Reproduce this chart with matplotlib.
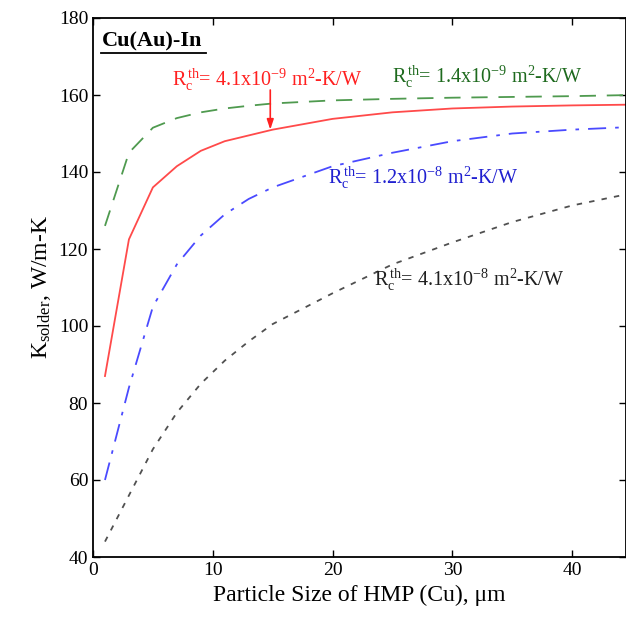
import numpy as np
import matplotlib
matplotlib.use('Agg')
import matplotlib.pyplot as plt

plt.rcParams['font.family'] = ['Liberation Serif', 'DejaVu Serif']
plt.rcParams['mathtext.fontset'] = 'custom'
plt.rcParams['mathtext.rm'] = 'Liberation Serif'
plt.rcParams['mathtext.it'] = 'Liberation Serif'
plt.rcParams['mathtext.bf'] = 'Liberation Serif:bold'

# Particle size (um) and solder conductivity (W/m-K) for each contact resistance
size = [1, 3, 5, 7, 9, 11, 13, 15, 20, 25, 30, 35, 40, 45]
k_14e9 = [126, 145, 151.5, 154, 155.5, 156.5, 157.2, 157.8, 158.6, 159, 159.3, 159.5, 159.7, 160]
k_41e9 = [87, 122.5, 136, 141.5, 145.5, 148, 149.5, 151, 153.8, 155.5, 156.5, 157, 157.3, 157.5]
k_12e8 = [60, 84, 105, 116, 123.5, 129, 133, 136, 141.5, 145, 148, 150, 151, 151.7]
k_41e8 = [44, 56, 68, 77.5, 85, 91, 96, 100.5, 108.5, 116, 121.7, 127, 131.3, 134.5]

fig = plt.figure(figsize=(6.26, 6.19), dpi=100)
ax = fig.add_axes([93 / 626, 62 / 619, 533 / 626, 539 / 619])

ax.plot(size, k_14e9, color='#4f9a4f', lw=1.3, linestyle=(0, (9, 6)))
ax.plot(size, k_41e9, color='#ff4a4a', lw=1.3, linestyle='-')
ax.plot(size, k_12e8, color='#4a4aff', lw=1.3, linestyle=(0, (10, 5, 2, 5)))
ax.plot(size, k_41e8, color='#505050', lw=1.3, linestyle=(0, (3, 4)))

ax.set_xlim(0, 44.5)
ax.set_ylim(40, 180)
ax.set_xticks([0, 10, 20, 30, 40])
ax.set_yticks(range(40, 181, 20))
ax.tick_params(direction='in', top=True, right=True, length=5, width=1, labelsize=14)
for s in ax.spines.values():
    s.set_linewidth(1.3)

ax.set_xlabel('Particle Size of HMP (Cu), \u03bcm', fontsize=17)
ax.set_ylabel('K$_{solder}$, W/m-K', fontsize=17)

ax.text(0.7, 174, 'Cu(Au)-In', fontsize=16, fontweight='bold', va='center')
ax.plot([0.7, 9.4], [171.0, 171.0], color='black', lw=1.3)

fs = 14.5
ax.text(6.6, 164, 'R$_c^{\\,th}$= 4.1x10$^{-9}$ m$^2$-K/W', color='#ff2020', fontsize=fs, va='center')
ax.text(25.0, 164.7, 'R$_c^{\\,th}$= 1.4x10$^{-9}$ m$^2$-K/W', color='#1e6a1e', fontsize=fs, va='center')
ax.text(19.6, 138.4, 'R$_c^{\\,th}$= 1.2x10$^{-8}$ m$^2$-K/W', color='#2020d0', fontsize=fs, va='center')
ax.text(23.5, 112, 'R$_c^{\\,th}$= 4.1x10$^{-8}$ m$^2$-K/W', color='#202020', fontsize=fs, va='center')
ax.annotate('', xy=(14.8, 151.0), xytext=(14.8, 161.3),
            arrowprops=dict(arrowstyle='-|>,head_width=0.2,head_length=0.6',
                            color='#ff2020', lw=1.2, shrinkA=0, shrinkB=0))

fig.savefig('out.png', dpi=100)
